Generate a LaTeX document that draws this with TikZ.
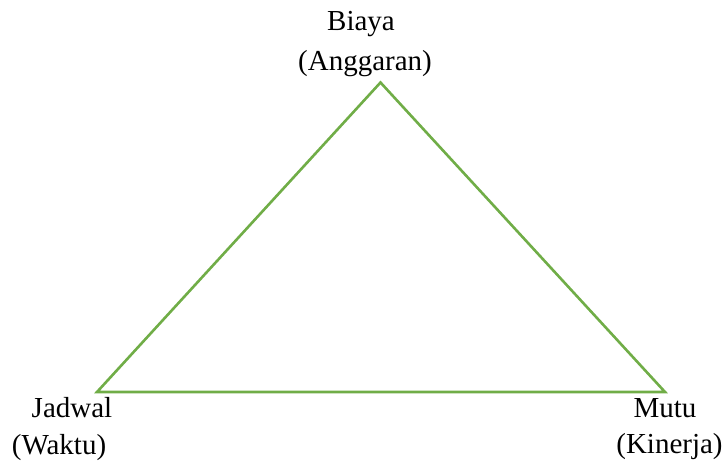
\documentclass[tikz,border=0pt]{standalone}
\usepackage{fontspec}
\setmainfont{Liberation Serif}
\definecolor{tgreen}{HTML}{70AD47}
\begin{document}
\begin{tikzpicture}[x=1pt,y=-1pt,
  edge/.style={draw=tgreen,line width=2.6pt,line join=miter},
  lbl/.style={anchor=base,inner sep=0pt,font=\fontsize{29}{34}\selectfont}]
\useasboundingbox (0,0) rectangle (724,462);
\coordinate (top) at (380.5,82.5);
\coordinate (bl) at (97,392);
\coordinate (br) at (665,392);
\draw[edge] (top) -- (bl) -- (br) -- cycle;
\node[lbl] (biaya) at (361,31) {Biaya};
\node[lbl] (anggaran) at (365,71) {(Anggaran)};
\node[lbl] (jadwal) at (72,418) {Jadwal};
\node[lbl] (waktu) at (59,455) {(Waktu)};
\node[lbl] (mutu) at (665,418) {Mutu};
\node[lbl] (kinerja) at (669.5,454) {(Kinerja)};
\end{tikzpicture}
\end{document}
